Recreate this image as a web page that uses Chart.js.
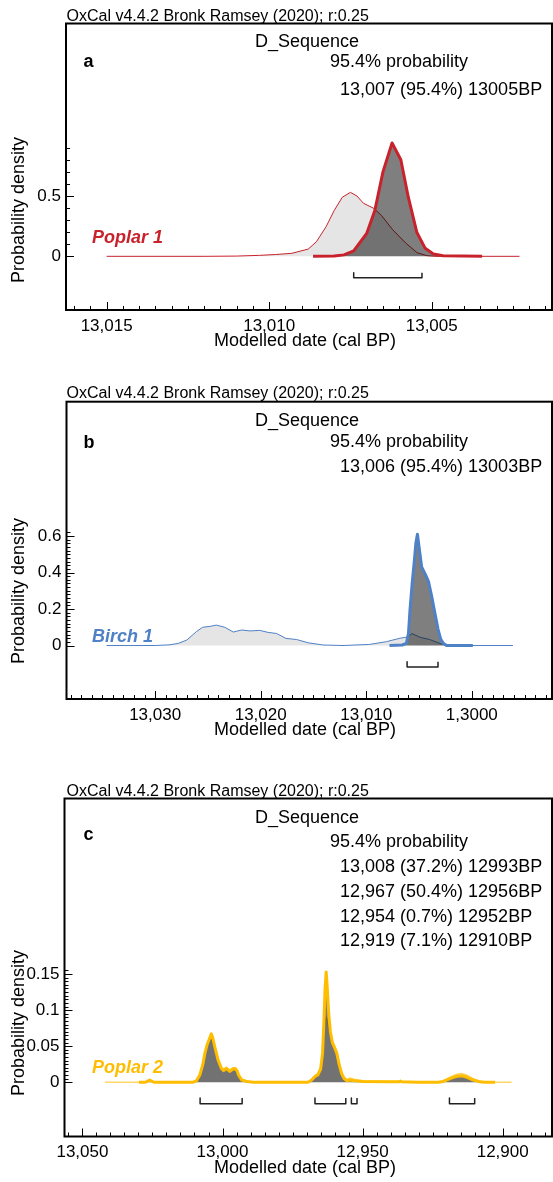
<!DOCTYPE html>
<html>
<head>
<meta charset="utf-8">
<script src="https://cdn.jsdelivr.net/npm/chart.js@4/dist/chart.umd.min.js"></script>
<style>
  html, body { margin: 0; padding: 0; background: #fff; }
  body { width: 553px; height: 1182px; position: relative; overflow: hidden; }
  canvas { position: absolute; left: 0; }
</style>
</head>
<body>
<canvas id="chartA" width="553" height="355" style="top:0px"></canvas>
<canvas id="chartB" width="553" height="365" style="top:380px"></canvas>
<canvas id="chartC" width="553" height="412" style="top:770px"></canvas>
<script>
'use strict';

// ---- panel a : Poplar 1 ----
const aPriorYears = [13015, 13012, 13011, 13010.3, 13009.8, 13009.3, 13008.8, 13008.55, 13008.25, 13008.0, 13007.75, 13007.5, 13007.3, 13007.1, 13006.8, 13006.55, 13006.2, 13005.8, 13005.45, 13005.15, 13004.9, 13002.3];
const aPriorDensity = [0, 0, 0.002, 0.008, 0.015, 0.025, 0.06, 0.12, 0.245, 0.38, 0.49, 0.53, 0.5, 0.44, 0.40, 0.34, 0.22, 0.11, 0.03, 0.005, 0, 0];
const aPostYears = [13008.65, 13008.0, 13007.7, 13007.4, 13007.0, 13006.75, 13006.5, 13006.22, 13005.95, 13005.72, 13005.46, 13005.2, 13004.95, 13004.65, 13003.45];
const aPostDensity = [0, 0.003, 0.012, 0.045, 0.19, 0.38, 0.70, 0.94, 0.80, 0.49, 0.20, 0.066, 0.02, 0.004, 0];
const aRanges = [[13007.4, 13005.3]];
const aRangeText = ['13,007 (95.4%) 13005BP'];
const aXTicks = [13015, 13010, 13005];
const aXLabels = ['13,015', '13,010', '13,005'];
const aYTicks = [0, 0.5];
const aYLabels = ['0', '0.5'];

// ---- panel b : Birch 1 ----
const bPriorYears = [13034.6, 13030, 13028.6, 13027.8, 13027.0, 13026.1, 13025.5, 13024.8, 13024.2, 13023.4, 13022.6, 13021.8, 13021.0, 13020.1, 13019.3, 13018.5, 13017.6, 13016.6, 13015.5, 13014.1, 13012.2, 13009.7, 13008.1, 13006.8, 13006.0, 13005.7, 13004.9, 13004.0, 13003.0, 13002.4, 12996.1];
const bPriorDensity = [0, 0, 0.004, 0.012, 0.03, 0.076, 0.10, 0.105, 0.112, 0.10, 0.074, 0.085, 0.08, 0.083, 0.072, 0.066, 0.039, 0.033, 0.015, 0.003, 0, 0.006, 0.021, 0.04, 0.048, 0.066, 0.045, 0.033, 0.011, 0, 0];
const bPostYears = [13007.8, 13006.6, 13006.2, 13006.0, 13005.85, 13005.65, 13005.45, 13005.3, 13005.15, 13004.95, 13004.75, 13004.4, 13004.1, 13003.8, 13003.5, 13003.2, 13002.95, 13002.7, 13002.4, 12999.9];
const bPostDensity = [0, 0.003, 0.012, 0.066, 0.2, 0.34, 0.46, 0.56, 0.61, 0.52, 0.43, 0.39, 0.35, 0.27, 0.18, 0.09, 0.035, 0.012, 0, 0];
const bRanges = [[13006.13, 13003.2]];
const bRangeText = ['13,006 (95.4%) 13003BP'];
const bXTicks = [13030, 13020, 13010, 13000];
const bXLabels = ['13,030', '13,020', '13,010', '1,3000'];
const bYTicks = [0, 0.2, 0.4, 0.6];
const bYLabels = ['0', '0.2', '0.4', '0.6'];

// ---- panel c : Poplar 2 ----
const cPriorYears = [13042, 13027.5, 13026, 13024.5, 13010.5, 13009.3, 13008.1, 13007.0, 13006.3, 13005.5, 13004.8, 13004.0, 13003.5, 13002.75, 13001.6, 13000.4, 12999.6, 12998.6, 12997.4, 12996.4, 12995.5, 12994.8, 12994.3, 12993.1, 12991.3, 12988.9, 12969.5, 12968.2, 12967.0, 12966.0, 12965.0, 12964.3, 12963.8, 12963.4, 12963.0, 12962.6, 12962.1, 12961.5, 12960.8, 12960.0, 12959.2, 12958.4, 12957.5, 12956.6, 12955.6, 12954.5, 12953.0, 12950, 12940, 12937, 12936.5, 12936, 12930, 12923, 12921.2, 12918.8, 12916.5, 12914.7, 12912.9, 12910.5, 12908.1, 12906.3, 12896.8];
const cPriorDensity = [0, 0, 0.003, 0, 0, 0.003, 0.011, 0.026, 0.04, 0.05, 0.056, 0.06, 0.058, 0.048, 0.032, 0.021, 0.018, 0.021, 0.017, 0.02, 0.02, 0.017, 0.011, 0.004, 0.001, 0, 0, 0.004, 0.009, 0.012, 0.02, 0.04, 0.07, 0.085, 0.09, 0.085, 0.075, 0.065, 0.057, 0.05, 0.042, 0.027, 0.014, 0.007, 0.004, 0.006, 0.004, 0.002, 0.001, 0.001, 0.002, 0.001, 0, 0, 0.002, 0.007, 0.011, 0.012, 0.01, 0.005, 0.001, 0, 0];
const cPostYears = [13029.8, 13027.5, 13026, 13024.5, 13010.5, 13009.3, 13008.1, 13007.0, 13006.3, 13005.5, 13004.8, 13004.0, 13003.5, 13002.75, 13001.6, 13000.4, 12999.6, 12998.6, 12997.4, 12996.4, 12995.5, 12994.8, 12994.3, 12993.1, 12991.3, 12988.9, 12969.5, 12968.2, 12967.0, 12966.0, 12965.0, 12964.3, 12963.8, 12963.4, 12963.0, 12962.6, 12962.1, 12961.5, 12960.8, 12960.0, 12959.2, 12958.4, 12957.5, 12956.6, 12955.6, 12954.5, 12953.0, 12950, 12940, 12937, 12936.5, 12936, 12930, 12923, 12921.2, 12918.8, 12916.5, 12914.7, 12912.9, 12910.5, 12908.1, 12906.3, 12902.75];
const cPostDensity = [0, 0, 0.003, 0, 0, 0.002, 0.01, 0.025, 0.04, 0.052, 0.059, 0.067, 0.062, 0.049, 0.031, 0.019, 0.016, 0.019, 0.015, 0.018, 0.019, 0.016, 0.01, 0.003, 0.001, 0, 0, 0.003, 0.008, 0.01, 0.018, 0.04, 0.085, 0.13, 0.153, 0.13, 0.095, 0.07, 0.055, 0.048, 0.04, 0.025, 0.012, 0.005, 0.002, 0.003, 0.002, 0.001, 0.0005, 0.0005, 0.0015, 0.0005, 0, 0, 0.001, 0.005, 0.008, 0.009, 0.007, 0.003, 0.0005, 0, 0];
const cRanges = [[13008, 12993], [12967, 12956], [12954, 12952], [12919, 12910]];
const cRangeText = ['13,008 (37.2%) 12993BP', '12,967 (50.4%) 12956BP', '12,954 (0.7%) 12952BP', '12,919 (7.1%) 12910BP'];
const cXTicks = [13050, 13000, 12950, 12900];
const cXLabels = ['13,050', '13,000', '12,950', '12,900'];
const cYTicks = [0, 0.05, 0.1, 0.15];
const cYLabels = ['0', '0.05', '0.1', '0.15'];

const FONT = "'Liberation Sans', Arial, sans-serif";
const HEADER = 'OxCal v4.4.2 Bronk Ramsey (2020); r:0.25';

function toPoints(xs, ys) {
  return xs.map((x, i) => ({ x: x, y: ys[i] }));
}

function bracketPoints(ranges, barY, capY) {
  let pts = [];
  ranges.forEach((r) => {
    pts.push({ x: r[0], y: capY }, { x: r[0], y: barY }, { x: r[1], y: barY }, { x: r[1], y: capY }, { x: r[1], y: null });
  });
  return pts;
}

function isMajor(list, v) {
  return list.some((m) => Math.abs(m - v) < 1e-6);
}

// frame, inward tick marks and all the text
function oxcalLayer(p) {
  return {
    id: 'oxcal',
    afterDraw(chart) {
      let ctx = chart.ctx;
      let area = chart.chartArea;
      let xs = chart.scales.x;
      let ys = chart.scales.y;
      ctx.save();
      ctx.strokeStyle = '#000';
      ctx.lineWidth = 1;
      ctx.beginPath();
      let n0 = Math.ceil(xs.min / p.xMinor - 1e-6);
      let n1 = Math.floor(xs.max / p.xMinor + 1e-6);
      for (let n = n0; n <= n1; n++) {
        let v = n * p.xMinor;
        let px = Math.round(xs.getPixelForValue(v)) + 0.5;
        let len = isMajor(p.xTicks, v) ? 8 : 4;
        ctx.moveTo(px, area.bottom);
        ctx.lineTo(px, area.bottom - len);
      }
      let m1 = Math.round(p.yTickTop / p.yMinor);
      for (let n = 0; n <= m1; n++) {
        let v = n * p.yMinor;
        let py = Math.round(ys.getPixelForValue(v)) + 0.5;
        let len = isMajor(p.yTicks, v) ? 8 : 4;
        ctx.moveTo(area.left, py);
        ctx.lineTo(area.left + len, py);
      }
      ctx.stroke();
      ctx.lineWidth = 2;
      ctx.strokeRect(area.left, area.top, area.width, area.height);

      p.texts.forEach((t) => {
        ctx.save();
        ctx.font = (t.style || '') + ' ' + (t.weight || 'normal') + ' ' + t.size + 'px ' + FONT;
        ctx.fillStyle = t.color || '#000';
        ctx.textAlign = t.align || 'left';
        ctx.textBaseline = t.baseline || 'alphabetic';
        ctx.translate(t.x, t.y);
        if (t.rotate) ctx.rotate(t.rotate);
        ctx.fillText(t.text, 0, 0);
        ctx.restore();
      });
      ctx.restore();
    }
  };
}

function makeChart(id, p) {
  let ctx = document.getElementById(id);
  return new Chart(ctx, {
    type: 'line',
    data: {
      datasets: [{
        data: bracketPoints(p.ranges, p.barY, p.capY),
        borderColor: '#222',
        borderWidth: 1.5,
        fill: false,
        spanGaps: false,
        order: 0,
      }, {
        data: toPoints(p.postYears, p.postDensity),
        borderColor: p.color,
        borderWidth: 3,
        backgroundColor: 'rgba(0, 0, 0, 0.5)',
        fill: 'origin',
        order: 1,
      }, {
        data: toPoints(p.priorYears, p.priorDensity),
        borderColor: p.priorColor,
        borderWidth: p.priorWidth,
        backgroundColor: '#e5e5e5',
        fill: 'origin',
        order: 2,
      }],
    },
    options: {
      responsive: false,
      animation: false,
      events: [],
      layout: { padding: { top: p.padTop, right: 1, left: 0, bottom: 0 } },
      elements: {
        point: { radius: 0 },
        line: { tension: 0, borderJoinStyle: 'round' },
      },
      plugins: { legend: { display: false }, tooltip: { enabled: false } },
      scales: {
        x: {
          type: 'linear',
          reverse: true,
          min: p.xMin,
          max: p.xMax,
          grid: { display: false, drawTicks: false },
          border: { display: false },
          afterFit: (scale) => { scale.height = p.xAxisHeight; },
          afterBuildTicks: (scale) => { scale.ticks = p.xTicks.map((v) => ({ value: v })); },
          ticks: {
            autoSkip: false,
            maxRotation: 0,
            padding: 6,
            color: '#000',
            font: { family: FONT, size: 17 },
            callback: (v) => p.xLabels[p.xTicks.indexOf(v)],
          },
        },
        y: {
          type: 'linear',
          min: p.yMin,
          max: p.yMax,
          grid: { display: false, drawTicks: false },
          border: { display: false },
          afterFit: (scale) => { scale.width = p.yAxisWidth; },
          afterBuildTicks: (scale) => { scale.ticks = p.yTicks.map((v) => ({ value: v })); },
          ticks: {
            autoSkip: false,
            padding: 5,
            color: '#000',
            font: { family: FONT, size: 17 },
            callback: (v) => p.yLabels[p.yTicks.indexOf(v)],
          },
        },
      },
    },
    plugins: [oxcalLayer(p)],
  });
}

function headerTexts(letter, tops, ranges) {
  let list = [
    { text: HEADER, x: 66.5, y: tops.header, size: 16 },
    { text: 'D_Sequence', x: 255, y: tops.seq, size: 18 },
    { text: letter, x: 83.5, y: tops.letter, size: 18, weight: 'bold' },
    { text: '95.4% probability', x: 330, y: tops.prob, size: 18 },
  ];
  ranges.forEach((r, i) => {
    list.push({ text: r, x: 340, y: tops.range + i * 24.7, size: 18 });
  });
  return list;
}

const RED = '#c8232c';
const BLUE = '#4f81c6';
const GOLD = '#ffbd00';

makeChart('chartA', {
  priorYears: aPriorYears, priorDensity: aPriorDensity,
  postYears: aPostYears, postDensity: aPostDensity,
  ranges: aRanges, barY: -0.177, capY: -0.136,
  xTicks: aXTicks, xLabels: aXLabels, xMinor: 0.5,
  yTicks: aYTicks, yLabels: aYLabels, yMinor: 0.1, yTickTop: 0.9,
  xMin: 13001.3, xMax: 13016.25, yMin: -0.445, yMax: 1.93,
  padTop: 23.5, yAxisWidth: 66, xAxisHeight: 45,
  color: RED, priorColor: RED, priorWidth: 1,
  texts: headerTexts('a', { header: 20.5, seq: 46.7, letter: 66.5, prob: 66.7, range: 94.5 }, aRangeText).concat([
    { text: 'Poplar 1', x: 92, y: 243, size: 18, weight: 'bold', style: 'italic', color: RED },
    { text: 'Probability density', x: 19.5, y: 210, size: 18, align: 'center', baseline: 'middle', rotate: -Math.PI / 2 },
    { text: 'Modelled date (cal BP)', x: 305, y: 341.5, size: 18, align: 'center', baseline: 'middle' },
  ]),
});

makeChart('chartB', {
  priorYears: bPriorYears, priorDensity: bPriorDensity,
  postYears: bPostYears, postDensity: bPostDensity,
  ranges: bRanges, barY: -0.118, capY: -0.089,
  xTicks: bXTicks, xLabels: bXLabels, xMinor: 1,
  yTicks: bYTicks, yLabels: bYLabels, yMinor: 0.02, yTickTop: 0.62,
  xMin: 12992.4, xMax: 13038.4, yMin: -0.293, yMax: 1.336,
  padTop: 21.7, yAxisWidth: 66.5, xAxisHeight: 46,
  color: BLUE, priorColor: BLUE, priorWidth: 1,
  texts: headerTexts('b', { header: 18, seq: 46, letter: 68, prob: 67, range: 91.5 }, bRangeText).concat([
    { text: 'Birch 1', x: 92, y: 262, size: 18, weight: 'bold', style: 'italic', color: BLUE },
    { text: 'Probability density', x: 19.5, y: 211, size: 18, align: 'center', baseline: 'middle', rotate: -Math.PI / 2 },
    { text: 'Modelled date (cal BP)', x: 305, y: 350.5, size: 18, align: 'center', baseline: 'middle' },
  ]),
});

makeChart('chartC', {
  priorYears: cPriorYears, priorDensity: cPriorDensity,
  postYears: cPostYears, postDensity: cPostDensity,
  ranges: cRanges, barY: -0.030, capY: -0.022,
  xTicks: cXTicks, xLabels: cXLabels, xMinor: 5,
  yTicks: cYTicks, yLabels: cYLabels, yMinor: 0.005, yTickTop: 0.155,
  xMin: 12882.4, xMax: 13056.4, yMin: -0.0753, yMax: 0.3935,
  padTop: 28.5, yAxisWidth: 64.5, xAxisHeight: 45.5,
  color: GOLD, priorColor: 'rgba(255, 189, 0, 0.6)', priorWidth: 1.5,
  texts: headerTexts('c', { header: 26, seq: 53, letter: 70, prob: 76.7, range: 102.3 }, cRangeText).concat([
    { text: 'Poplar 2', x: 92, y: 303, size: 18, weight: 'bold', style: 'italic', color: GOLD },
    { text: 'Probability density', x: 19.5, y: 253, size: 18, align: 'center', baseline: 'middle', rotate: -Math.PI / 2 },
    { text: 'Modelled date (cal BP)', x: 305, y: 398, size: 18, align: 'center', baseline: 'middle' },
  ]),
});
</script>
</body>
</html>
